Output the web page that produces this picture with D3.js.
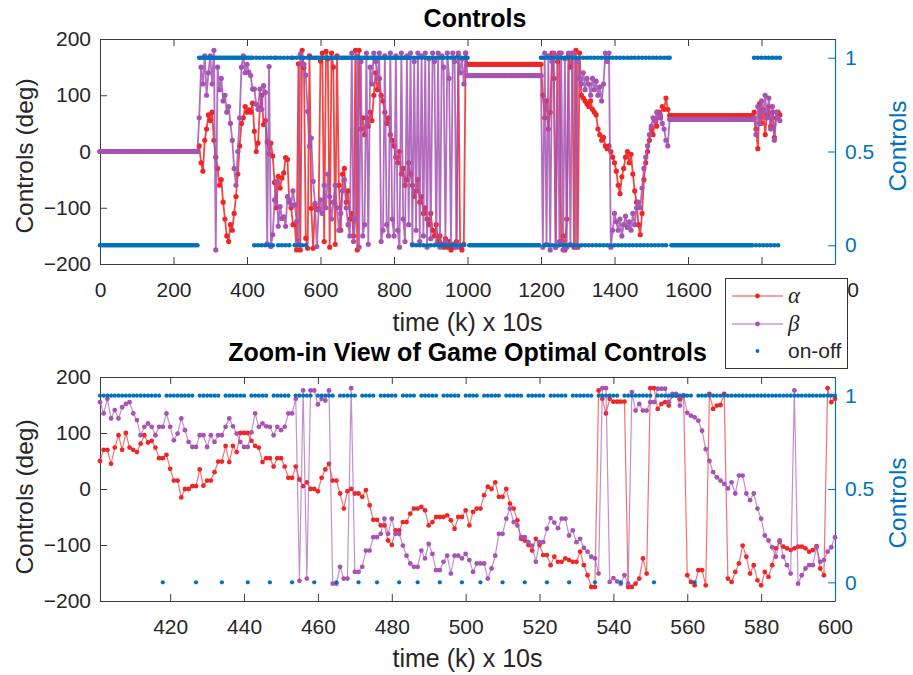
<!DOCTYPE html>
<html>
<head>
<meta charset="utf-8">
<script src="https://cdn.jsdelivr.net/npm/d3@7"></script>
<style>
  body { margin: 0; background: #fff; }
  svg text { font-family: "Liberation Sans", Arial, Helvetica, sans-serif; }
</style>
</head>
<body>
<svg id="chart" width="913" height="675"></svg>
<script>
// ---------- full run, sampled every 5 steps (k = 0, 5, ..., 1850) ----------
const stepTop = 5;
const kEndTop = 1850;

const alphaTop = [
  0,0,0,0,0,0,0,0,0,0,                          // k 0-45
  0,0,0,0,0,0,0,0,0,0,                          // k 50-95
  0,0,0,0,0,0,0,0,0,0,                          // k 100-145
  0,0,0,0,0,0,0,0,0,0,                          // k 150-195
  0,0,0,0,0,0,0,0,0,0,                          // k 200-245
  0,0,0,0,10,-20,-35,20,40,65,                  // k 250-295
  55,70,20,-10,-30,-60,-50,-90,-120,-150,       // k 300-345
  -160,-130,-140,-110,-80,-40,10,50,60,80,      // k 350-395
  70,74,70,86,36,0,15,77,100,48,                // k 400-445
  55,17,-4,15,-8,-55,-100,-44,-65,-47,          // k 450-495
  -38,-11,-14,-89,-100,-130,-130,-175,156,-175, // k 500-545
  180,149,-154,-172,170,-101,-172,-94,-103,-102,// k 550-595
  161,175,-160,178,165,-170,175,150,-165,170,   // k 600-645
  -60,-140,-40,-30,-90,-70,-120,-110,-150,180,  // k 650-695
  -175,180,40,60,30,60,45,70,55,100,            // k 700-745
  140,110,130,100,90,70,50,60,30,20,            // k 750-795
  10,-10,-20,0,-40,-30,-60,-50,-20,-40,         // k 800-845
  -60,-80,-70,-50,-90,-80,-110,-100,-120,-130,  // k 850-895
  -110,-140,-150,-130,-160,-150,-165,-170,-155,-170, // k 900-945
  -160,-175,-165,-170,-160,170,-170,-175,-165,175,   // k 950-995
  155,155,155,155,155,155,155,155,155,155,      // k 1000-1045
  155,155,155,155,155,155,155,155,155,155,      // k 1050-1095
  155,155,155,155,155,155,155,155,155,155,      // k 1100-1145
  155,155,155,155,155,155,155,155,155,155,      // k 1150-1195
  155,100,60,90,40,70,175,130,-170,160,         // k 1200-1245
  175,-160,-150,-175,-120,170,150,175,-170,180, // k 1250-1295
  -170,175,100,95,90,85,80,90,75,70,            // k 1300-1345
  65,40,30,20,25,10,5,10,0,-10,                 // k 1350-1395
  -20,-35,-60,-75,-45,-30,-10,0,-20,-5,         // k 1400-1445
  -40,-70,-90,-130,-148,-110,-50,-20,0,20,      // k 1450-1495
  40,30,55,45,70,60,80,75,95,75,                // k 1500-1545
  64,64,64,64,64,64,64,64,64,64,                // k 1550-1595
  64,64,64,64,64,64,64,64,64,64,                // k 1600-1645
  64,64,64,64,64,64,64,64,64,64,                // k 1650-1695
  64,64,64,64,64,64,64,64,64,64,                // k 1700-1745
  64,64,64,64,64,64,70,40,5,85,                 // k 1750-1795
  50,75,30,65,80,45,70,25,60,70,                // k 1800-1845
  65                                            // k 1850
];

const betaTop = [
  0,0,0,0,0,0,0,0,0,0,                          // k 0-45
  0,0,0,0,0,0,0,0,0,0,                          // k 50-95
  0,0,0,0,0,0,0,0,0,0,                          // k 100-145
  0,0,0,0,0,0,0,0,0,0,                          // k 150-195
  0,0,0,0,0,0,0,0,0,0,                          // k 200-245
  0,0,0,0,60,150,120,170,100,140,               // k 250-295
  170,120,180,-175,150,110,130,90,100,70,       // k 300-345
  80,50,20,-30,-60,0,60,150,170,140,            // k 350-395
  155,141,135,111,111,84,75,111,75,117,         // k 400-445
  105,-164,151,-169,-148,-86,-53,-133,-98,-119, // k 450-495
  -116,-133,-80,-86,-95,-70,-95,-124,-159,173,  // k 500-545
  155,155,136,71,9,24,-53,-92,-169,-104,        // k 550-595
  -86,-110,-60,-100,-40,-80,-120,-90,-60,-100,  // k 600-645
  -140,-110,-70,-50,-100,-130,-150,175,-160,-120, // k 650-695
  170,-170,160,-150,-130,175,-165,150,120,175,  // k 700-745
  160,130,175,-160,-140,170,-130,-150,175,-120, // k 750-795
  -150,170,-140,-170,175,-120,-160,170,-130,175,// k 800-845
  -165,160,-140,175,-160,170,-150,175,-170,165, // k 850-895
  -155,175,160,-165,175,-170,170,150,-160,175,  // k 900-945
  130,-165,175,160,-170,175,140,165,120,175,    // k 950-995
  135,135,135,135,135,135,135,135,135,135,      // k 1000-1045
  135,135,135,135,135,135,135,135,135,135,      // k 1050-1095
  135,135,135,135,135,135,135,135,135,135,      // k 1100-1145
  135,135,135,135,135,135,135,135,135,135,      // k 1150-1195
  135,-170,175,-165,170,-175,160,175,-170,170,  // k 1200-1245
  -160,175,-175,165,-170,175,-165,170,175,-170, // k 1250-1295
  160,130,120,140,110,130,120,100,130,110,      // k 1300-1345
  125,100,115,90,120,175,160,175,-170,-140,     // k 1350-1395
  -110,-125,-140,-120,-150,-130,-115,-135,-125,-140, // k 1400-1445
  -110,-130,-100,-90,-100,-65,-30,-10,10,30,    // k 1450-1495
  45,60,55,70,60,65,50,40,20,10,                // k 1500-1545
  57,57,57,57,57,57,57,57,57,57,                // k 1550-1595
  57,57,57,57,57,57,57,57,57,57,                // k 1600-1645
  57,57,57,57,57,57,57,57,57,57,                // k 1650-1695
  57,57,57,57,57,57,57,57,57,57,                // k 1700-1745
  57,57,57,57,57,57,60,30,80,50,                // k 1750-1795
  90,70,100,60,95,40,80,20,70,60,               // k 1800-1845
  55                                            // k 1850
];

const onOffTop = [
  0,0,0,0,0,0,0,0,0,0,  0,0,0,0,0,0,0,0,0,0,    // k 0-95
  0,0,0,0,0,0,0,0,0,0,  0,0,0,0,0,0,0,0,0,0,    // k 100-195
  0,0,0,0,0,0,0,0,0,0,                          // k 200-245
  0,0,0,0,1,1,1,1,1,1,                          // k 250-295
  1,1,1,1,1,1,1,1,1,1,  1,1,1,1,1,1,1,1,1,1,    // k 300-395
  1,1,1,1,0,1,0,1,0,1,                          // k 400-445
  0,1,0,1,0,1,1,0,1,0,                          // k 450-495
  1,0,1,0,1,1,0,1,0,1,                          // k 500-545
  0,1,0,1,1,1,1,1,1,1,                          // k 550-595
  1,1,1,1,1,1,1,1,1,1,  1,1,1,1,1,1,1,1,1,1,    // k 600-695
  1,1,1,1,1,1,1,1,1,1,  1,1,1,1,1,1,1,1,1,1,    // k 700-795
  1,1,1,1,1,1,1,1,1,1,                          // k 800-845
  0,1,0,1,0,1,0,1,0,1,                          // k 850-895
  0,1,0,1,0,1,0,1,0,1,                          // k 900-945
  0,1,0,1,0,1,0,1,0,1,                          // k 950-995
  1,0,0,0,0,0,0,0,0,0,                          // k 1000-1045
  0,0,0,0,0,0,0,0,0,0,  0,0,0,0,0,0,0,0,0,0,    // k 1050-1145
  0,0,0,0,0,0,0,0,0,0,                          // k 1150-1195
  1,1,0,1,0,1,0,1,0,1,                          // k 1200-1245
  0,1,0,1,0,1,0,1,0,1,                          // k 1250-1295
  0,1,0,1,0,1,0,1,0,1,                          // k 1300-1345
  0,1,0,1,0,1,0,1,0,1,                          // k 1350-1395
  0,1,0,1,0,1,0,1,0,1,                          // k 1400-1445
  0,1,0,1,0,1,0,1,0,1,                          // k 1450-1495
  0,1,0,1,0,1,0,1,0,1,                          // k 1500-1545
  1,0,0,0,0,0,0,0,0,0,                          // k 1550-1595
  0,0,0,0,0,0,0,0,0,0,  0,0,0,0,0,0,0,0,0,0,    // k 1600-1695
  0,0,0,0,0,0,0,0,0,0,                          // k 1700-1745
  0,0,0,0,0,0,1,0,1,0,                          // k 1750-1795
  1,0,1,0,1,0,1,0,1,0,                          // k 1800-1845
  1                                             // k 1850
];

// ---------- zoomed window, every step (k = 401 ... 600) ----------
const kStartZoom = 401;

const alphaZoom = [
  50,70,70,45,74,96,70,100,74,70,               // k 401-410
  66,81,96,83,86,74,55,55,61,36,                // k 411-420
  15,15,-15,0,0,5,5,35,6,15,                    // k 421-430
  15,30,49,49,77,48,77,66,100,100,              // k 431-440
  100,86,77,74,48,55,55,40,55,55,               // k 441-450
  40,20,20,40,17,5,12,0,0,-4,                   // k 451-460
  20,35,45,15,15,-8,-35,-4,0,-8,                // k 461-470
  -8,-14,-2,-29,-55,-55,-65,-65,-92,-100,       // k 471-480
  -74,-74,-59,-59,-44,-35,-35,-32,-38,-65,      // k 481-490
  -59,-50,-50,-50,-47,-56,-71,-50,-50,-38,      // k 491-500
  -65,-41,-35,-35,-11,4,0,12,-14,-14,           // k 501-510
  0,-26,-35,-56,-89,-92,-100,-110,-89,-100,     // k 511-520
  -118,-118,-136,-121,-130,-130,-124,-127,-130,-130, // k 521-530
  -112,-136,-154,-175,-175,176,161,135,161,156, // k 531-540
  156,156,156,-175,-175,-169,-160,-124,-151,180,// k 541-550
  180,143,152,155,149,167,167,160,167,-154,     // k 551-560
  -166,-172,-145,-145,-172,170,143,149,150,170, // k 561-570
  -160,-166,-148,-133,-101,-121,-151,-136,-163,-172, // k 571-580
  -148,-157,-136,-106,-94,-103,-106,-109,-106,-103,  // k 581-590
  -103,-106,-112,-109,-102,-142,-154,180,155,161     // k 591-600
];

const betaZoom = [
  155,135,161,126,141,126,146,152,155,135,      // k 401-410
  123,96,111,117,111,96,111,111,135,111,        // k 411-420
  87,99,126,105,84,75,75,96,96,75,              // k 421-430
  96,84,96,96,111,126,112,99,84,75,             // k 431-440
  75,101,135,111,117,112,111,96,111,105,        // k 441-450
  111,135,135,161,-164,176,-160,176,176,151,    // k 451-460
  161,158,176,-169,-169,-139,-160,-160,180,-148,// k 461-470
  -148,-139,-110,-110,-86,-86,-80,-53,-80,-53,  // k 471-480
  -80,-80,-101,-119,-133,-139,-139,-110,-124,-98,    // k 481-490
  -116,-145,-145,-130,-119,-151,-119,-119,-124,-116, // k 491-500
  -127,-148,-133,-133,-133,-160,-142,-119,-80,-80,   // k 501-510
  -53,-35,-59,-65,-86,-86,-95,-101,-130,-95,    // k 511-520
  -95,-71,-52,-60,-70,-53,-53,-83,-74,-95,      // k 521-530
  -89,-105,-112,-121,-124,-151,180,180,-166,-159,    // k 531-540
  -165,-169,-154,-169,173,140,152,140,140,155,  // k 541-550
  155,179,179,179,155,170,170,149,167,136,      // k 551-560
  131,128,122,104,71,50,30,21,15,9,             // k 561-570
  1,12,-8,24,24,-8,-20,-8,-35,-53,              // k 571-580
  -83,-92,-104,-121,-92,-121,-136,-151,176,-169,// k 581-590
  -154,-142,-136,-136,-104,-130,-127,-112,-104,-86   // k 591-600
];

const onOffZoom = [
  1,1,1,1,1,1,1,1,1,1, 1,1,1,1,1,1,1,0,1,1,     // k 401-420
  1,1,1,1,1,1,0,1,1,1, 1,1,1,0,1,1,1,1,1,1,     // k 421-440
  0,1,1,1,1,1,0,1,1,1, 1,1,0,1,1,1,1,1,0,1,     // k 441-460
  1,1,1,1,0,1,1,1,1,1, 0,1,1,1,1,0,1,1,1,1,     // k 461-480
  1,0,1,1,1,1,0,1,1,1, 1,1,0,1,1,1,1,1,0,1,     // k 481-500
  1,1,1,0,1,1,1,1,1,0, 1,1,1,1,1,0,1,1,1,1,     // k 501-520
  1,0,1,1,1,1,1,0,1,1, 1,1,1,1,0,1,1,1,1,1,     // k 521-540
  1,0,1,1,1,1,1,1,1,1, 0,1,1,1,1,1,1,1,1,1,     // k 541-560
  1,0,1,1,1,1,1,1,1,1, 1,1,1,1,1,1,1,1,1,1,     // k 561-580
  1,1,1,1,1,1,1,1,1,1, 1,1,1,1,1,1,1,1,1,1      // k 581-600
];

// ---------- axis ticks ----------
const xTicksTop = [0, 200, 400, 600, 800, 1000, 1200, 1400, 1600, 1800, 2000];
const xTicksZoom = [420, 440, 460, 480, 500, 520, 540, 560, 580, 600];
const yTicksLeft = [-200, -100, 0, 100, 200];
const yTicksRight = [0, 0.5, 1];

const seriesNames = ["\u03B1", "\u03B2", "on-off"];

// ---------- styling ----------
const RED = "#EE2626";
const PURPLE = "#A653B3";
const BLUE = "#0072BD";
const AXIS = "#3c3c3c";
const TEXT = "#262626";

const svg = d3.select("#chart");

function series(ks, vals) {
  const n = Math.min(ks.length, vals.length);
  return d3.range(n).map(i => ({ k: ks[i], v: vals[i] }));
}

function panel(o) {
  const x = d3.scaleLinear().domain(o.xDomain).range([o.left, o.right]);
  const yL = d3.scaleLinear().domain([-200, 200]).range([o.bottom, o.top]);
  const yR = d3.scaleLinear().domain([-0.1, 1.1]).range([o.bottom, o.top]);

  const g = svg.append("g");

  // frame axes
  const ax = g.append("g").attr("transform", `translate(0,${o.bottom})`)
    .call(d3.axisBottom(x).tickValues(o.xTicks).tickSizeInner(-7).tickSizeOuter(0)
      .tickPadding(18).tickFormat(d3.format("d")));
  const axTop = g.append("g").attr("transform", `translate(0,${o.top})`)
    .call(d3.axisTop(x).tickValues(o.xTicks).tickSizeInner(-7).tickSizeOuter(0).tickFormat(""));
  const ayL = g.append("g").attr("transform", `translate(${o.left},0)`)
    .call(d3.axisLeft(yL).tickValues(yTicksLeft).tickSizeInner(-7).tickSizeOuter(0).tickPadding(9));
  [ax, axTop, ayL].forEach(a => {
    a.select(".domain").attr("stroke", AXIS).attr("stroke-width", 1);
    a.selectAll(".tick line").attr("stroke", AXIS);
    a.selectAll("text").attr("fill", TEXT).style("font-size", "21px");
  });

  const ayR = g.append("g").attr("transform", `translate(${o.right},0)`)
    .call(d3.axisRight(yR).tickValues(yTicksRight).tickSizeInner(-7).tickSizeOuter(0)
      .tickPadding(10).tickFormat(d => d === 0.5 ? "0.5" : d3.format("d")(d)));
  ayR.select(".domain").attr("stroke", BLUE).attr("stroke-width", 1.2);
  ayR.selectAll(".tick line").attr("stroke", BLUE);
  ayR.selectAll("text").attr("fill", BLUE).style("font-size", "21px");

  // data: alpha, then beta, then the on-off flags on the right-hand scale
  const plot = g.append("g");
  const line = d3.line().x(d => x(d.k)).y(d => yL(d.v));
  const sets = [
    { data: series(o.ks, o.alpha), color: RED },
    { data: series(o.ks, o.beta), color: PURPLE }
  ];
  sets.forEach(s => {
    plot.append("path").datum(s.data)
      .attr("d", line).attr("fill", "none")
      .attr("stroke", s.color).attr("stroke-width", o.lw).attr("stroke-opacity", o.lineOpacity);
    plot.append("g").selectAll("circle").data(s.data).join("circle")
      .attr("cx", d => x(d.k)).attr("cy", d => yL(d.v)).attr("r", o.mr)
      .attr("fill", s.color);
  });
  plot.append("g").selectAll("circle").data(series(o.ks, o.onOff)).join("circle")
    .attr("cx", d => x(d.k)).attr("cy", d => yR(d.v)).attr("r", o.br)
    .attr("fill", BLUE);

  // titles and labels
  g.append("text").attr("x", o.titleX).attr("y", o.titleY)
    .attr("text-anchor", "middle").attr("font-weight", "bold")
    .style("font-size", "25px").attr("fill", "#000").text(o.title);
  g.append("text").attr("x", (o.left + o.right) / 2).attr("y", o.xLabelY)
    .attr("text-anchor", "middle").style("font-size", "25px").attr("fill", TEXT)
    .text("time (k) x 10s");
  g.append("text").attr("transform", `translate(33,${o.yLabelCY}) rotate(-90)`)
    .attr("text-anchor", "middle").style("font-size", "24.5px").attr("fill", TEXT)
    .text("Controls (deg)");
  g.append("text").attr("transform", `translate(906,${o.rLabelCY}) rotate(-90)`)
    .attr("text-anchor", "middle").style("font-size", "24.5px").attr("fill", BLUE)
    .text("Controls");
}

const ksTop = d3.range(0, kEndTop + 1, stepTop);
const ksZoom = d3.range(kStartZoom, kStartZoom + alphaZoom.length);

panel({
  xDomain: [0, 2000], xTicks: xTicksTop,
  left: 100, right: 835, top: 39, bottom: 264,
  ks: ksTop, alpha: alphaTop, beta: betaTop, onOff: onOffTop,
  lw: 1.8, lineOpacity: 0.85, mr: 2.6, br: 2.35,
  title: "Controls", titleX: 475, titleY: 27,
  xLabelY: 331, yLabelCY: 156, rLabelCY: 146
});

panel({
  xDomain: [401, 600], xTicks: xTicksZoom,
  left: 100, right: 835, top: 377, bottom: 601,
  ks: ksZoom, alpha: alphaZoom, beta: betaZoom, onOff: onOffZoom,
  lw: 1.2, lineOpacity: 0.65, mr: 2.4, br: 2.1,
  title: "Zoom-in View of Game Optimal Controls", titleX: 467.5, titleY: 361,
  xLabelY: 667, yLabelCY: 497, rLabelCY: 503
});

// legend
const lg = svg.append("g");
lg.append("rect").attr("x", 725.5).attr("y", 278.5).attr("width", 122).attr("height", 90)
  .attr("fill", "#fff").attr("stroke", "#333").attr("stroke-width", 1);
const legendItems = [
  { name: seriesNames[0], color: RED, y: 296, kind: "line", italic: true },
  { name: seriesNames[1], color: PURPLE, y: 324, kind: "line", italic: true },
  { name: seriesNames[2], color: BLUE, y: 351, kind: "dot", italic: false }
];
legendItems.forEach(it => {
  if (it.kind === "line") {
    lg.append("line").attr("x1", 732).attr("x2", 783).attr("y1", it.y).attr("y2", it.y)
      .attr("stroke", it.color).attr("stroke-width", 1.4).attr("stroke-opacity", 0.6);
    lg.append("circle").attr("cx", 757.5).attr("cy", it.y).attr("r", 2.4).attr("fill", it.color);
  } else {
    lg.append("circle").attr("cx", 757.5).attr("cy", it.y).attr("r", 1.9).attr("fill", it.color);
  }
  const t = lg.append("text").attr("x", 788).attr("y", it.y + 7).attr("fill", TEXT).text(it.name);
  if (it.italic) {
    t.style("font-family", "'Liberation Serif','Times New Roman',serif")
      .style("font-style", "italic").style("font-size", "23px");
  } else {
    t.style("font-size", "21px");
  }
});
</script>
</body>
</html>
